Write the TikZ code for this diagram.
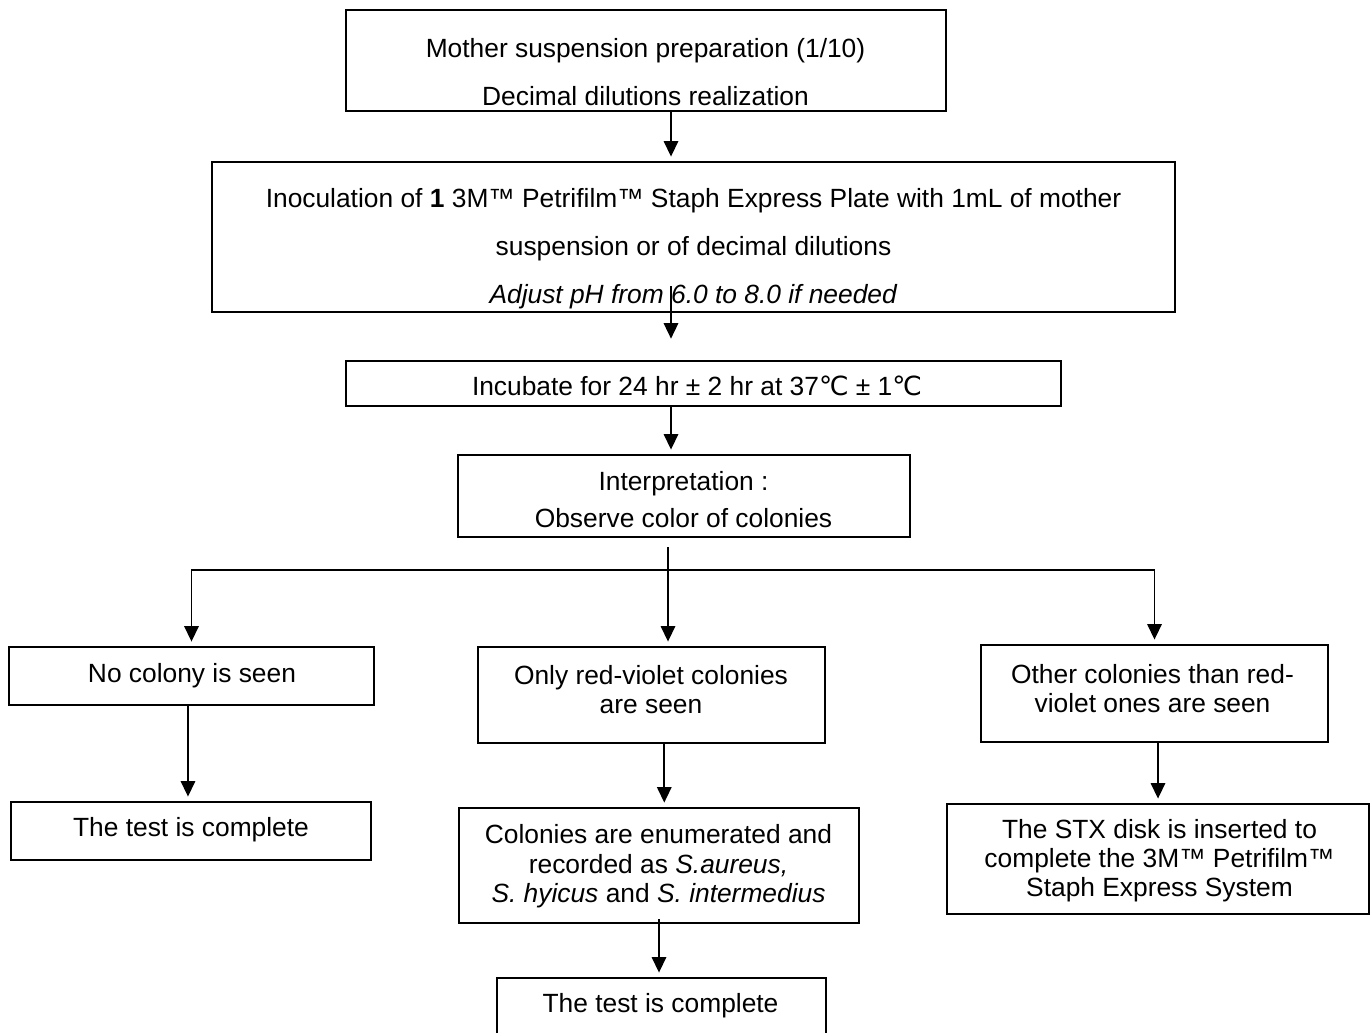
\documentclass[tikz,border=0pt]{standalone}
\usepackage{fontspec}
\setmainfont{Liberation Sans}
\newfontfamily\degfont{DejaVu Sans}
\usetikzlibrary{arrows.meta,calc}

\begin{document}
\begin{tikzpicture}[x=0.02cm,y=-0.02cm,
  box/.style={draw,line width=1.2pt,inner sep=0pt},
  txt/.style={align=center,inner sep=0pt,font=\fontsize{15pt}{#1}\selectfont},
  txt/.default=17pt,
  arr/.style={line width=0.9pt,-{Triangle[length=3.1mm,width=2.9mm]},shorten >=2.5pt}]
\useasboundingbox (0,0) rectangle (1372,1032);
% boxes
\node[box,minimum width=12cm,minimum height=2.02cm] (mother) at (646,60.5) {};
\node[txt=27.3pt] (motherT) at (645.5,72) {Mother suspension preparation (1/10)\\Decimal dilutions realization};
\node[box,minimum width=19.26cm,minimum height=3cm] (inoc) at (693.5,237) {};
\node[txt=27.5pt] (inocT) at (693.5,248.5) {Inoculation of \textbf{1} 3M™ Petrifilm™ Staph Express Plate with 1mL of mother\\suspension or of decimal dilutions\\\textit{Adjust pH from 6.0 to 8.0 if needed}};
\node[box,minimum width=14.3cm,minimum height=0.9cm] (incub) at (703.5,383.5) {};
\node[txt] (incubT) at (697,385.5) {Incubate for 24 hr ± 2 hr at 37{\degfont ℃} ± 1{\degfont ℃}};
\node[box,minimum width=9.04cm,minimum height=1.64cm] (interp) at (684,496) {};
\node[txt=21pt] (interpT) at (683.5,500) {Interpretation :\\Observe color of colonies};
% three outcomes
\node[box,minimum width=7.3cm,minimum height=1.16cm] (none) at (191.5,676) {};
\node[txt] (noneT) at (192,676) {No colony is seen};
\node[box,minimum width=6.94cm,minimum height=1.92cm] (redviolet) at (651.5,695) {};
\node[txt=16.5pt] (redvioletT) at (651,689.5) {Only red-violet colonies\\are seen};
\node[box,minimum width=6.94cm,minimum height=1.94cm] (other) at (1154.5,693.5) {};
\node[txt=16.5pt] (otherT) at (1152.5,688.5) {Other colonies than red-\\violet ones are seen};
\node[box,minimum width=7.2cm,minimum height=1.16cm] (doneleft) at (191,831) {};
\node[txt] (doneleftT) at (191,830) {The test is complete};
\node[box,minimum width=8cm,minimum height=2.3cm] (enum) at (659,865.5) {};
\node[txt=16.8pt] (enumT) at (658.5,866.5) {Colonies are enumerated and\\recorded as \textit{S.aureus,}\\\textit{S. hyicus} and \textit{S. intermedius}};
\node[box,minimum width=8.44cm,minimum height=2.2cm] (stx) at (1158,859) {};
\node[txt=16.5pt] (stxT) at (1159.5,861) {The STX disk is inserted to\\complete the 3M™ Petrifilm™\\Staph Express System};
\node[box,minimum width=6.58cm,minimum height=1.24cm] (donemid) at (661.5,1009) {};
\node[txt] (donemidT) at (660.5,1006) {The test is complete};
% connectors
\coordinate (spine) at (671,0);
\coordinate (split) at (668,570);
\draw[arr] (mother.south -| spine) -- (inoc.north -| spine);
\draw[arr] ($(inoc.south -| spine)+(0,-27)$) -- ($(inoc.south -| spine)+(0,30)$);
\draw[arr] (incub.south -| spine) -- (interp.north -| spine);
\draw[arr] ($(interp.south -| split)+(0,9)$) -- (redviolet.north -| split);
\draw[arr] (split) -| (none.north);
\draw[arr] (split) -| (other.north);
\draw[arr] ([xshift=-2pt]none.south) -- ([xshift=-2pt]none.south |- doneleft.north);
\draw[arr] ([xshift=3pt]redviolet.south -| enum.north) -- ([xshift=3pt]enum.north);
\draw[arr] (other.south -| stx.north) -- (stx.north);
\draw[arr] ($(enum.south)+(0,-5)$) -- (enum.south |- donemid.north);
\end{tikzpicture}
\end{document}
